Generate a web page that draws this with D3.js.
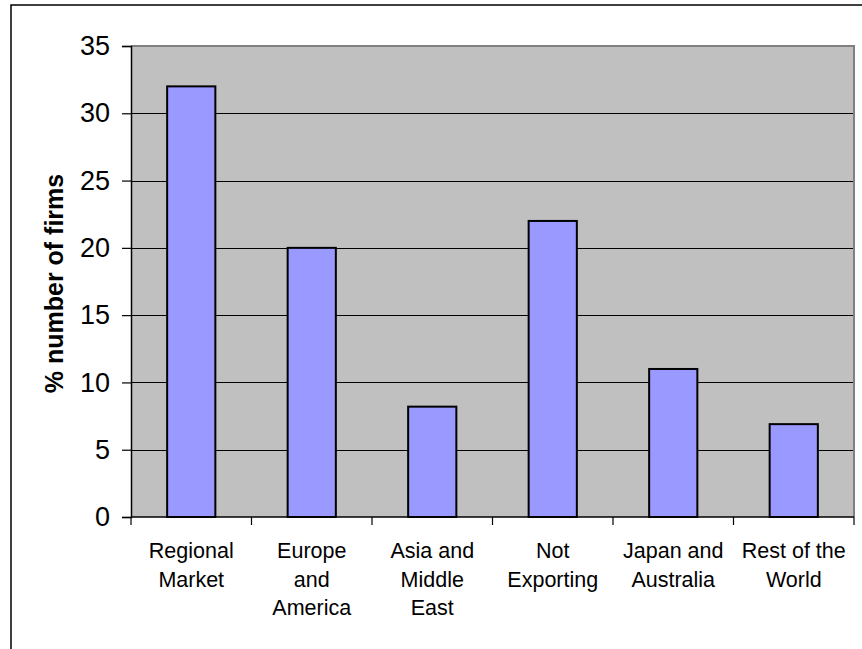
<!DOCTYPE html>
<html>
<head>
<meta charset="utf-8">
<script src="https://cdn.jsdelivr.net/npm/d3@7"></script>
<style>
  html, body { margin: 0; padding: 0; background: #fff; }
  svg { display: block; }
  text { font-family: "Liberation Sans", Arial, sans-serif; fill: #000; }
</style>
</head>
<body>
<svg id="chart" width="862" height="649"></svg>
<script>
// Export destinations and share of firms (%)
const categories = ["Regional Market", "Europe and America", "Asia and Middle East",
                    "Not Exporting", "Japan and Australia", "Rest of the World"];
const categoryLines = [
  ["Regional", "Market"],
  ["Europe", "and", "America"],
  ["Asia and", "Middle", "East"],
  ["Not", "Exporting"],
  ["Japan and", "Australia"],
  ["Rest of the", "World"]
];
const values = [32, 20, 8.2, 22, 11, 6.9];
const yTicks = [0, 5, 10, 15, 20, 25, 30, 35];
const yTitle = "% number of firms";

const svg = d3.select("#chart");
const plot = { left: 131, right: 854, top: 46, bottom: 517 };

// Outer chart frame
svg.append("path")
  .attr("d", `M11,649 L11,5 L862,5`)
  .attr("fill", "none").attr("stroke", "#000").attr("stroke-width", 1.5);

const x = d3.scaleBand()
  .domain(categories)
  .range([plot.left, plot.right])
  .paddingInner(0.6)
  .paddingOuter(0.3);

const y = d3.scaleLinear().domain([0, 35]).range([plot.bottom, plot.top]);

// Plot area background
svg.append("rect")
  .attr("x", plot.left).attr("y", plot.top)
  .attr("width", plot.right - plot.left).attr("height", plot.bottom - plot.top)
  .attr("fill", "#C0C0C0");

// Horizontal gridlines
svg.append("g")
  .selectAll("line")
  .data(yTicks.filter(t => t > 0 && t < 35))
  .join("line")
  .attr("x1", plot.left).attr("x2", plot.right)
  .attr("y1", d => Math.round(y(d)) + 0.5).attr("y2", d => Math.round(y(d)) + 0.5)
  .attr("stroke", "#000").attr("stroke-width", 1);

// Plot area border (top and right)
svg.append("path")
  .attr("d", `M${plot.left},${plot.top} L${plot.right},${plot.top} L${plot.right},${plot.bottom}`)
  .attr("fill", "none").attr("stroke", "#808080").attr("stroke-width", 2);

// Bars
svg.append("g")
  .selectAll("rect")
  .data(values)
  .join("rect")
  .attr("x", (d, i) => x(categories[i]))
  .attr("y", d => y(d))
  .attr("width", x.bandwidth())
  .attr("height", d => y(0) - y(d))
  .attr("fill", "#9999FF")
  .attr("stroke", "#000")
  .attr("stroke-width", 2);

// Y axis
const yAxis = d3.axisLeft(y).tickValues(yTicks).tickSize(9).tickPadding(12).tickFormat(d3.format("d"));
const gy = svg.append("g").attr("transform", `translate(${plot.left},0)`).call(yAxis);
gy.select(".domain").attr("stroke", "#000").attr("stroke-width", 1.5);
gy.selectAll(".tick line").attr("stroke", "#000").attr("stroke-width", 1.2);
gy.selectAll(".tick text")
  .attr("font-size", 27).attr("font-family", '"Liberation Sans", Arial, sans-serif')
  .attr("fill", "#000");

// X axis baseline and category separators
const gx = svg.append("g");
gx.append("line")
  .attr("x1", plot.left).attr("x2", plot.right)
  .attr("y1", plot.bottom).attr("y2", plot.bottom)
  .attr("stroke", "#000").attr("stroke-width", 1.5);
const step = x.step();
const edges = categories.map(c => x(c) - x.paddingOuter() * step).concat([plot.right]);
gx.selectAll("line.sep")
  .data(edges)
  .join("line")
  .attr("class", "sep")
  .attr("x1", d => d).attr("x2", d => d)
  .attr("y1", plot.bottom).attr("y2", plot.bottom + 8)
  .attr("stroke", "#000").attr("stroke-width", 1.2);

// Category labels, one tspan per line
const labels = svg.append("g")
  .selectAll("text")
  .data(categories)
  .join("text")
  .attr("text-anchor", "middle")
  .attr("font-size", 21.5)
  .attr("transform", d => `translate(${x(d) + x.bandwidth() / 2},558)`);
labels.each(function(d, i) {
  d3.select(this).selectAll("tspan")
    .data(categoryLines[i])
    .join("tspan")
    .attr("x", 0)
    .attr("y", (l, j) => j * 28.5)
    .text(l => l);
});

// Y axis title
svg.append("text")
  .attr("transform", `translate(63,${(plot.top + plot.bottom) / 2 + 2}) rotate(-90)`)
  .attr("text-anchor", "middle")
  .attr("font-size", 25)
  .attr("font-weight", "bold")
  .text(yTitle);
</script>
</body>
</html>
